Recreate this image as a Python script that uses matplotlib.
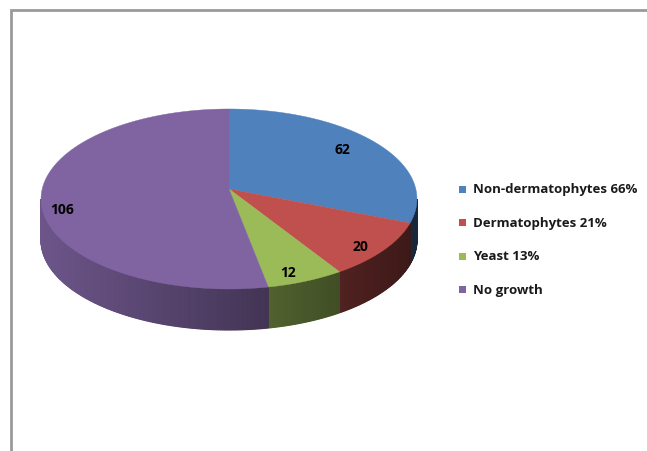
import numpy as np
import matplotlib
matplotlib.use('Agg')
import matplotlib.pyplot as plt
from matplotlib.patches import Polygon

# data
labels = ['Non-dermatophytes 66%', 'Dermatophytes 21%', 'Yeast 13%', 'No growth']
values = [62, 20, 12, 106]
colors = ['#4F81BD', '#C0504D', '#9BBB59', '#8064A2']

# pie geometry (pixels), perspective tilt k
cx, cy = 229, 190
sx = 186.8
p, k = 67.8, -0.111
depth = 41


def proj(theta, r=1.0):
    # theta in degrees, clockwise from the back (12 o'clock)
    t = np.radians(theta)
    u = r * np.sin(t)
    v = -r * np.cos(t)
    w = 1 + k * v
    return cx + sx * u / w, (p * v + cy) / w


def shade(x):
    return max(0.25, 0.85 - (x - 40) * 0.00145)


fig = plt.figure(figsize=(6.47, 4.52), dpi=100)
ax = fig.add_axes([0, 0, 1, 1])
ax.set_xlim(0, 647)
ax.set_ylim(452, 0)
ax.axis('off')

# chart frame
ax.plot([11, 11, 647], [452, 11, 11], color='#9a9a9a', lw=2, solid_joinstyle='miter')

total = sum(values)
edges = np.concatenate([[0], np.cumsum(values)]) / total * 360
vis_lo, vis_hi = 96.4, 263.6

# side walls
for i, c in enumerate(colors):
    a0, a1 = max(edges[i], vis_lo), min(edges[i + 1], vis_hi)
    if a1 <= a0:
        continue
    ts = np.linspace(a0, a1, max(2, int((a1 - a0) * 2)))
    base = np.array(matplotlib.colors.to_rgb(c))
    for t0, t1 in zip(ts[:-1], ts[1:]):
        x0, y0 = proj(t0)
        x1, y1 = proj(t1)
        col = base * shade((x0 + x1) / 2)
        ax.add_patch(Polygon([(x0, y0), (x1, y1), (x1, y1 + depth), (x0, y0 + depth)],
                             closed=True, facecolor=col, edgecolor=col, lw=0.8))

# top faces
for i, c in enumerate(colors):
    ts = np.linspace(edges[i], edges[i + 1], 200)
    pts = [(cx, cy)] + [proj(t) for t in ts]
    ax.add_patch(Polygon(pts, closed=True, facecolor=c, edgecolor=c, lw=0.3))

# data labels
label_r = [0.77, 0.86, 0.82, 0.88]
label_off = [(0, -3), (0, 5), (-3, 9), (-2, 13)]
for i, v in enumerate(values):
    mid = (edges[i] + edges[i + 1]) / 2
    x, y = proj(mid, label_r[i])
    ax.text(x + label_off[i][0], y + label_off[i][1], str(v), ha='center', va='center',
            fontsize=10, fontweight='bold', family='Open Sans', color='black')

# legend
for i, (lab, c) in enumerate(zip(labels, colors)):
    y = 190 + i * 33.5
    ax.add_patch(Polygon([(459, y - 3.5), (466, y - 3.5), (466, y + 3.5), (459, y + 3.5)],
                         closed=True, facecolor=c, edgecolor='none'))
    ax.text(473, y, lab, ha='left', va='center', fontsize=9.5, fontweight='bold',
            family='Open Sans', color='#1a1a1a')

fig.savefig('out.png', dpi=100)
